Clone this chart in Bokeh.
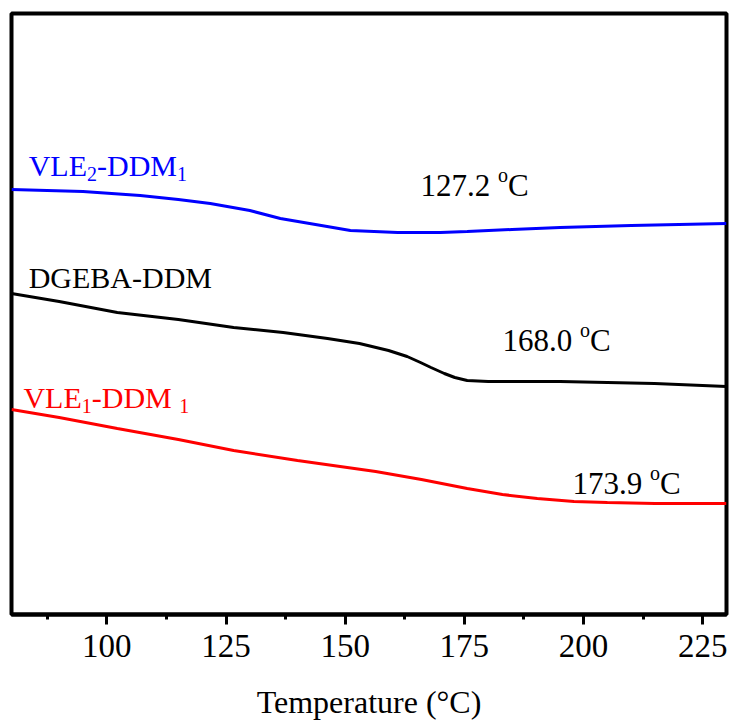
from bokeh.plotting import figure
from bokeh.models import Range1d, FixedTicker
from bokeh.core.properties import value
from bokeh.embed import file_html
from bokeh.resources import INLINE

# ---- data ----
temp_vle2 = [80, 95, 107, 115, 121.7, 130, 136.4, 145, 151.1, 161, 170, 175.6, 185, 195.1, 210, 230]
heat_vle2 = [4.25, 4.23, 4.19, 4.15, 4.11, 4.04, 3.96, 3.89, 3.84, 3.82, 3.82, 3.83, 3.85, 3.87, 3.89, 3.91]

temp_dgeba = [80, 90, 102.2, 115, 126.6, 137, 146.3, 153, 159.1, 163, 165.8, 168, 170.8, 173, 175.6, 180, 195.1, 214.9, 230]
heat_dgeba = [3.21, 3.13, 3.02, 2.95, 2.87, 2.82, 2.76, 2.71, 2.64, 2.58, 2.52, 2.47, 2.41, 2.37, 2.34, 2.33, 2.33, 2.31, 2.28]

temp_vle1 = [80, 90, 102.2, 115, 126.6, 140, 156.4, 166, 175.6, 183, 190.3, 198, 205, 215, 230]
heat_vle1 = [2.05, 1.97, 1.86, 1.75, 1.64, 1.54, 1.43, 1.35, 1.26, 1.20, 1.16, 1.13, 1.12, 1.11, 1.11]

x_ticks = [100, 125, 150, 175, 200, 225]
x_minor = [87.5, 112.5, 137.5, 162.5, 187.5, 212.5]
tg_values = ["127.2", "168.0", "173.9"]

FONT = value("Liberation Serif")
Y_MAX = 6.01
FRAME_H = 601
PX_PER_Y = FRAME_H / Y_MAX

p = figure(width=731, height=726, output_backend="svg", toolbar_location=None,
           x_range=Range1d(80, 230), y_range=Range1d(0, Y_MAX),
           min_border_left=11, min_border_right=5, min_border_top=13, min_border_bottom=112)
p.background_fill_color = "white"
p.border_fill_color = "white"
p.grid.visible = False
p.yaxis.visible = False
p.outline_line_color = "black"
p.outline_line_width = 4

ax = p.xaxis[0]
ax.ticker = FixedTicker(ticks=x_ticks, minor_ticks=x_minor)
ax.axis_line_color = "black"
ax.axis_line_width = 4
ax.major_tick_line_width = 3
ax.major_tick_in = 0
ax.major_tick_out = 10
ax.minor_tick_line_width = 3
ax.minor_tick_in = 0
ax.minor_tick_out = 5
ax.major_label_text_font = "Liberation Serif"
ax.major_label_text_font_size = "33px"
ax.major_label_text_color = "black"
ax.major_label_standoff = 10
ax.axis_label = "Temperature (\u00b0C)"
ax.axis_label_text_font = "Liberation Serif"
ax.axis_label_text_font_size = "32px"
ax.axis_label_text_font_style = "normal"
ax.axis_label_text_color = "black"
ax.axis_label_standoff = 24

p.line(temp_vle2, heat_vle2, line_color="#0000FF", line_width=3)
p.line(temp_dgeba, heat_dgeba, line_color="black", line_width=3)
p.line(temp_vle1, heat_vle1, line_color="#FF0000", line_width=3)

# Times-like advance widths (per 1000 em)
W = {'0': 500, '1': 500, '2': 500, '3': 500, '4': 500, '5': 500, '6': 500, '7': 500,
     '8': 500, '9': 500, '.': 250, ' ': 250, 'C': 667, 'o': 500, 'V': 722, 'L': 611,
     'E': 611, '-': 333, 'D': 722, 'M': 889, 'G': 722, 'B': 667, 'A': 722}

def tw(s, size):
    return sum(W.get(c, 500) for c in s) * size / 1000.0

def rich(x, y, segs, color):
    off = 0.0
    for s, size, dy in segs:
        p.text(x=[x], y=[y + dy / PX_PER_Y], text=[s], x_offset=off,
               text_font=FONT, text_font_size=f"{size}px", text_color=color,
               text_baseline="alphabetic", text_align="left")
        off += tw(s, size)

M, S = 30, 20
rich(83.6, 4.49, [("VLE", M, 0), ("2", S, -8), ("-DDM", M, 0), ("1", S, -8)], "#0000FF")
rich(83.6, 3.37, [("DGEBA-DDM", M, 0)], "black")
rich(82.5, 2.17, [("VLE", M, 0), ("1", S, -8), ("-DDM ", M, 0), ("1", S, -8)], "#FF0000")

tg_pos = [(165.8, 4.29), (183.0, 2.74), (197.7, 1.31)]
for t, (tx, ty) in zip(tg_values, tg_pos):
    rich(tx, ty, [(t + " ", 31, 0), ("o", 20, 11), ("C", 31, 0)], "black")

open("out.html", "w").write(file_html(p, INLINE))
